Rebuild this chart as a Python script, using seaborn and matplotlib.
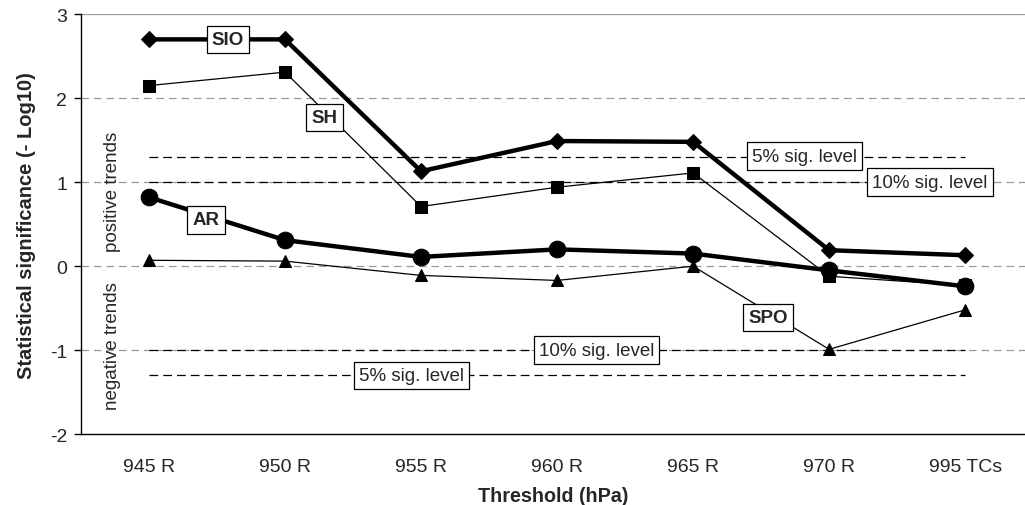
import numpy as np
import pandas as pd
import matplotlib
matplotlib.use("Agg")
import matplotlib.pyplot as plt
import seaborn as sns

# categories and series (statistical significance, -log10 p)
thresholds = ["945 R", "950 R", "955 R", "960 R", "965 R", "970 R", "995 TCs"]
sio = [2.70, 2.70, 1.13, 1.49, 1.48, 0.19, 0.13]
sh = [2.15, 2.31, 0.71, 0.94, 1.11, -0.12, -0.23]
ar = [0.82, 0.31, 0.11, 0.20, 0.15, -0.05, -0.24]
spo = [0.07, 0.06, -0.11, -0.17, 0.00, -0.99, -0.52]

sig_levels = [1.301, 1.0, -1.0, -1.301]

sns.set_style("white")
plt.rcParams["font.family"] = ["Liberation Sans", "DejaVu Sans"]

fig = plt.figure(figsize=(10.25, 5.06), dpi=100)
ax = fig.add_axes([0.079, 0.140, 0.921, 0.830])

pos = np.arange(len(thresholds))
df = pd.DataFrame({"x": np.tile(pos, 4),
                   "y": sio + sh + ar + spo,
                   "region": ["SIO"] * 7 + ["SH"] * 7 + ["AR"] * 7 + ["SPO"] * 7})

# gray grid lines
for g in [3, 2, 1, 0, -1]:
    ax.axhline(g, color="#999999", lw=0.9, ls=(0, (6, 4)) if g != 3 else "-", zorder=0)

# significance level lines
for s in sig_levels:
    ax.plot([0, 6], [s, s], color="black", lw=0.9, ls=(0, (7, 4)), zorder=1)

styles = {
    "SIO": dict(marker="D", lw=3.2, ms=8.5),
    "SH": dict(marker="s", lw=0.9, ms=8),
    "AR": dict(marker="o", lw=3.2, ms=12),
    "SPO": dict(marker="^", lw=0.9, ms=9),
}
for name in ["SH", "SPO", "SIO", "AR"]:
    st = styles[name]
    sns.lineplot(data=df[df.region == name], x="x", y="y", ax=ax, color="black",
                 marker=st["marker"], linewidth=st["lw"], markersize=st["ms"],
                 markeredgecolor="black", zorder=3)

box = dict(boxstyle="square,pad=0.28", fc="white", ec="black", lw=0.9)
lab = dict(ha="center", va="center", fontsize=13.5, bbox=box, zorder=5)
ax.text(0.58, 2.70, "SIO", fontweight="bold", **lab)
ax.text(1.29, 1.77, "SH", fontweight="bold", **lab)
ax.text(0.42, 0.55, "AR", fontweight="bold", **lab)
ax.text(4.55, -0.61, "SPO", fontweight="bold", **lab)
ax.text(4.82, 1.31, "5% sig. level", **lab)
ax.text(5.74, 1.0, "10% sig. level", **lab)
ax.text(3.29, -1.0, "10% sig. level", **lab)
ax.text(1.93, -1.30, "5% sig. level", **lab)

ax.text(-0.27, 0.9, "positive trends", rotation=90, ha="center", va="center", fontsize=13.5)
ax.text(-0.27, -0.94, "negative trends", rotation=90, ha="center", va="center", fontsize=13.5)

ax.set_xlim(-0.5, 6.44)
ax.set_ylim(-2, 3)
ax.set_xticks(pos)
ax.set_xticklabels(thresholds, fontsize=14)
ax.set_xticks(pos[:-1] + 0.5, minor=True)
ax.tick_params(axis="x", which="major", length=0, pad=17)
ax.tick_params(axis="x", which="minor", length=5, width=1, direction="out", color="black")
ax.set_yticks([-2, -1, 0, 1, 2, 3])
ax.set_yticklabels(["-2", "-1", "0", "1", "2", "3"], fontsize=14)
ax.tick_params(axis="y", length=5, width=1, direction="out", color="black", left=True, pad=5)

for side in ["top", "right"]:
    ax.spines[side].set_visible(False)
for side in ["left", "bottom"]:
    ax.spines[side].set_color("black")
    ax.spines[side].set_linewidth(1.0)

ax.set_xlabel("Threshold (hPa)", fontsize=14.2, fontweight="bold", labelpad=8)
ax.set_ylabel("Statistical significance (- Log10)", fontsize=14.5, fontweight="bold", labelpad=10)
if ax.get_legend() is not None:
    ax.get_legend().remove()

fig.savefig("out.png", dpi=100)
